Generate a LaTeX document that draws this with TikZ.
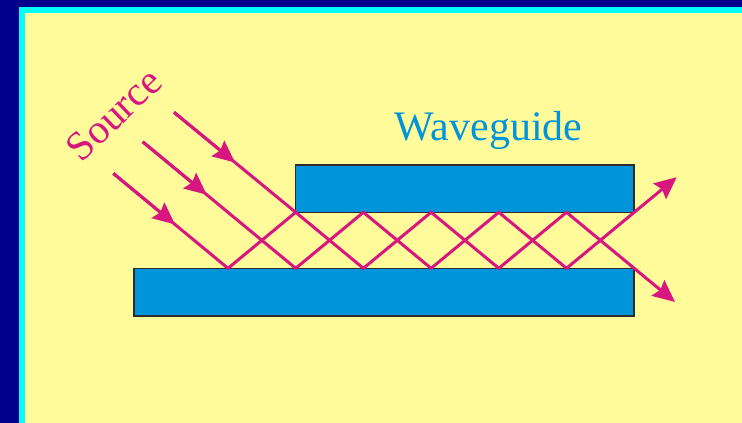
\documentclass[tikz,border=0pt]{standalone}
\usepackage{fontspec}
\setmainfont{Liberation Serif}
\usetikzlibrary{arrows.meta}
\definecolor{framenavy}{RGB}{0,0,140}
\definecolor{framecyan}{RGB}{0,255,255}
\definecolor{paper}{RGB}{255,251,155}
\definecolor{plateblue}{RGB}{0,148,219}
\definecolor{raycol}{RGB}{216,22,128}
\definecolor{platerim}{RGB}{45,45,45}

\begin{document}
\begin{tikzpicture}[x=1pt,y=-1pt,
  plate/.style={fill=plateblue, draw=platerim, line width=1.5pt},
  ray/.style={draw=raycol, line width=3pt, line join=miter},
  raytip/.style={ray, -{Stealth[length=22pt,width=20pt,inset=3pt]}}]
  % frame
  \fill[framenavy] (0,0) rectangle (742,423);
  \fill[framecyan] (18.5,6.5) rectangle (742,423);
  \fill[paper] (24.5,12.5) rectangle (742,423);
  \useasboundingbox (0,0) rectangle (742,423);
  % plates
  \draw[plate] (295.7,165) rectangle (634.2,212.3);
  \draw[plate] (134,268.3) rectangle (634.2,316);
  % reflection points
  \foreach \k in {0,...,6}{
    \coordinate (b\k) at (228+67.7*\k, 268.3);
    \coordinate (t\k) at (228+67.7*\k, 212.3);
  }
  % source rays
  \coordinate (s1) at (113.3,173.4);  \coordinate (m1) at (175,224.4);
  \coordinate (s2) at (142.7,141.8);  \coordinate (m2) at (206.7,194.7);
  \coordinate (s3) at (174,112.3);    \coordinate (m3) at (235,162.5);
  \coordinate (o1) at (675,302);
  \coordinate (o2) at (676.7,177.2);
  \draw[raytip] (s1) -- (b0) -- (t1) -- (b2) -- (t3) -- (b4) -- (t5) -- (b6) -- (o1);
  \draw[raytip] (s2) -- (b1) -- (t2) -- (b3) -- (t4) -- (b5) -- (t6) -- (o2);
  \draw[ray] (s3) -- (t1);
  \foreach \i in {1,2,3}{
    \draw[raytip] (s\i) -- (m\i);
  }
  % labels
  \node[text=plateblue, font=\fontsize{42}{50}\selectfont, anchor=base] (guide) at (488.5,140.7) {Waveguide};
  \node[text=raycol, font=\fontsize{41}{49}\selectfont, anchor=base, rotate=43.6] (source) at (123,124) {Source};
\end{tikzpicture}
\end{document}
